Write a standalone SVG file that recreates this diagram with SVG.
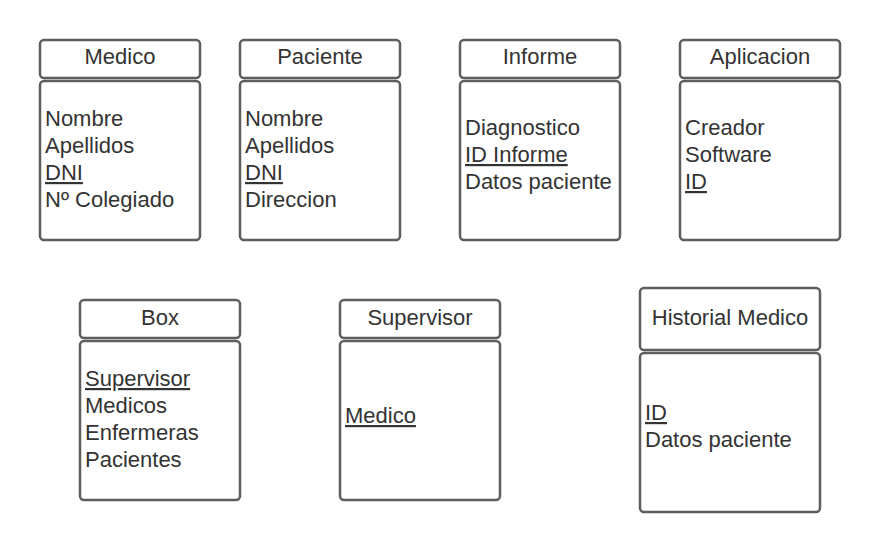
<svg xmlns="http://www.w3.org/2000/svg" width="880" height="552" viewBox="0 0 880 552">
<style>
rect{fill:#fff;stroke:#5e5e5e;stroke-width:2.5}
text{font-family:"Liberation Sans",Arial,sans-serif;font-size:22px;fill:#333}
.h{text-anchor:middle}
.u{text-decoration:underline}
</style>
<rect x="0" y="0" width="880" height="552" style="fill:#fff;stroke:none"/>
<g id="medico">
<rect x="40" y="40" width="160" height="38" rx="4"/>
<rect x="40" y="81" width="160" height="159" rx="4"/>
<text class="h" x="120" y="64">Medico</text>
<text x="45" y="126">Nombre</text>
<text x="45" y="153">Apellidos</text>
<text x="45" y="180" class="u">DNI</text>
<text x="45" y="207">Nº Colegiado</text>
</g>
<g id="paciente">
<rect x="240" y="40" width="160" height="38" rx="4"/>
<rect x="240" y="81" width="160" height="159" rx="4"/>
<text class="h" x="320" y="64">Paciente</text>
<text x="245" y="126">Nombre</text>
<text x="245" y="153">Apellidos</text>
<text x="245" y="180" class="u">DNI</text>
<text x="245" y="207">Direccion</text>
</g>
<g id="informe">
<rect x="460" y="40" width="160" height="38" rx="4"/>
<rect x="460" y="81" width="160" height="159" rx="4"/>
<text class="h" x="540" y="64">Informe</text>
<text x="465" y="135">Diagnostico</text>
<text x="465" y="162" class="u">ID Informe</text>
<text x="465" y="189">Datos paciente</text>
</g>
<g id="aplicacion">
<rect x="680" y="40" width="160" height="38" rx="4"/>
<rect x="680" y="81" width="160" height="159" rx="4"/>
<text class="h" x="760" y="64">Aplicacion</text>
<text x="685" y="135">Creador</text>
<text x="685" y="162">Software</text>
<text x="685" y="189" class="u">ID</text>
</g>
<g id="box">
<rect x="80" y="300" width="160" height="38" rx="4"/>
<rect x="80" y="341" width="160" height="159" rx="4"/>
<text class="h" x="160" y="325">Box</text>
<text x="85" y="386" class="u">Supervisor</text>
<text x="85" y="413">Medicos</text>
<text x="85" y="440">Enfermeras</text>
<text x="85" y="467">Pacientes</text>
</g>
<g id="supervisor">
<rect x="340" y="300" width="160" height="38" rx="4"/>
<rect x="340" y="341" width="160" height="159" rx="4"/>
<text class="h" x="420" y="325">Supervisor</text>
<text x="345" y="423" class="u">Medico</text>
</g>
<g id="historial">
<rect x="640" y="288" width="180" height="62" rx="4"/>
<rect x="640" y="353" width="180" height="159" rx="4"/>
<text class="h" x="730" y="325">Historial Medico</text>
<text x="645" y="420" class="u">ID</text>
<text x="645" y="447">Datos paciente</text>
</g>
<g id="connectors"></g>
</svg>
